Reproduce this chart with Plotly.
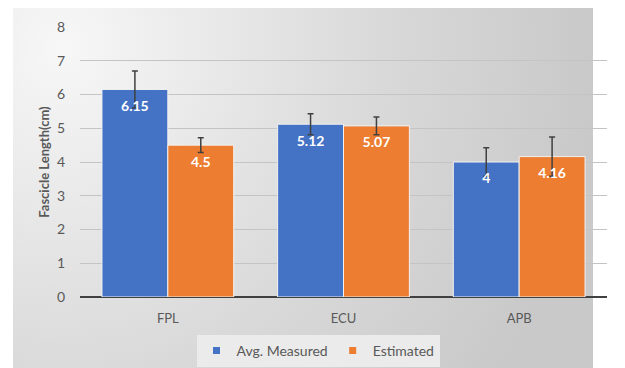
import plotly.graph_objects as go

categories = ["FPL", "ECU", "APB"]
measured = [6.15, 5.12, 4.0]
measured_err = [0.55, 0.31, 0.42]
measured_labels = ["6.15", "5.12", "4"]
estimated = [4.5, 5.07, 4.16]
estimated_err = [0.22, 0.26, 0.58]
estimated_labels = ["4.5", "5.07", "4.16"]
y_ticks = [0, 1, 2, 3, 4, 5, 6, 7, 8]

BLUE, ORANGE = "#4472C4", "#ED7D31"
W, H = 625, 368
OFF = 8  # page body margin offset
LABEL_DROP = 0.53  # data-label offset below bar top (in data units)

fig = go.Figure()

# background gradient panel (full-figure axes x/y)
fig.add_trace(go.Scatter(
    x=[-210, 850, 850, -210, -210], y=[-230, -230, 890, 890, -230],
    fill="toself", mode="none", hoverinfo="skip", showlegend=False,
    fillgradient=dict(type="radial",
                      colorscale=[[0, "#f7f7f7"], [0.6, "#d9d9d9"], [1, "#c9c9c9"]]),
    xaxis="x", yaxis="y",
))

# legend entries with small square markers (kept off the bar subplot)
for name, color in [("Avg. Measured", BLUE), ("Estimated", ORANGE)]:
    fig.add_trace(go.Scatter(
        x=[None], y=[None], mode="markers", name=name,
        marker=dict(symbol="square", size=7, color=color),
        xaxis="x", yaxis="y",
    ))

for name, vals, errs, color in [("Avg. Measured", measured, measured_err, BLUE),
                                ("Estimated", estimated, estimated_err, ORANGE)]:
    fig.add_trace(go.Bar(
        name=name, x=categories, y=vals, showlegend=False,
        marker=dict(color=color, line=dict(color="#f2f2f2", width=1)),
        error_y=dict(type="data", array=errs, color="#404040", thickness=1.5, width=3),
        xaxis="x2", yaxis="y2", hoverinfo="skip",
    ))

for vals, labels in [(measured, measured_labels), (estimated, estimated_labels)]:
    fig.add_trace(go.Scatter(
        x=categories, y=[v - LABEL_DROP for v in vals], text=labels,
        mode="text", textposition="middle center", showlegend=False,
        textfont=dict(color="white", size=14, family="Lato", weight="bold"),
        xaxis="x2", yaxis="y2", hoverinfo="skip", cliponaxis=False,
    ))

fig.update_layout(
    width=W, height=H,
    margin=dict(l=0, r=0, t=0, b=0),
    paper_bgcolor="white", plot_bgcolor="rgba(0,0,0,0)",
    font=dict(family="Lato", color="#595959", size=12),
    barmode="group", bargap=0.25, bargroupgap=0.0,
    scattermode="group", scattergap=0.25,
    showlegend=True,
    xaxis=dict(domain=[(13 - OFF) / W, 1], range=[13 - OFF, W], visible=False, fixedrange=True),
    yaxis=dict(domain=[0, 1], range=[0, H], visible=False, fixedrange=True),
    xaxis2=dict(domain=[(80 - OFF) / W, (607 - OFF) / W], anchor="y2", showgrid=False,
                automargin=False, tickfont=dict(size=13, color="#595959"), ticks="",
                showline=False, ticklabelstandoff=12),
    yaxis2=dict(domain=[(H - 297 + OFF) / H, (H - 27 + OFF) / H], anchor="x2", range=[0, 8],
                tickvals=y_ticks, showgrid=True, gridcolor="#c4c4c4", gridwidth=1.2,
                zeroline=True, zerolinecolor="#404040", zerolinewidth=2, automargin=False,
                tickfont=dict(size=14, color="#595959"), ticklabelstandoff=14,
                title=dict(text="Fascicle Length(cm)", standoff=4,
                           font=dict(size=13, color="#595959", weight="bold"))),
    legend=dict(orientation="h", x=(318 - OFF) / W, xanchor="center",
                y=(H - 351 + OFF) / H, yanchor="middle", bgcolor="#ebebeb",
                font=dict(size=14, color="#595959"), itemwidth=30,
                traceorder="normal"),
)

fig.write_html("out.html")
